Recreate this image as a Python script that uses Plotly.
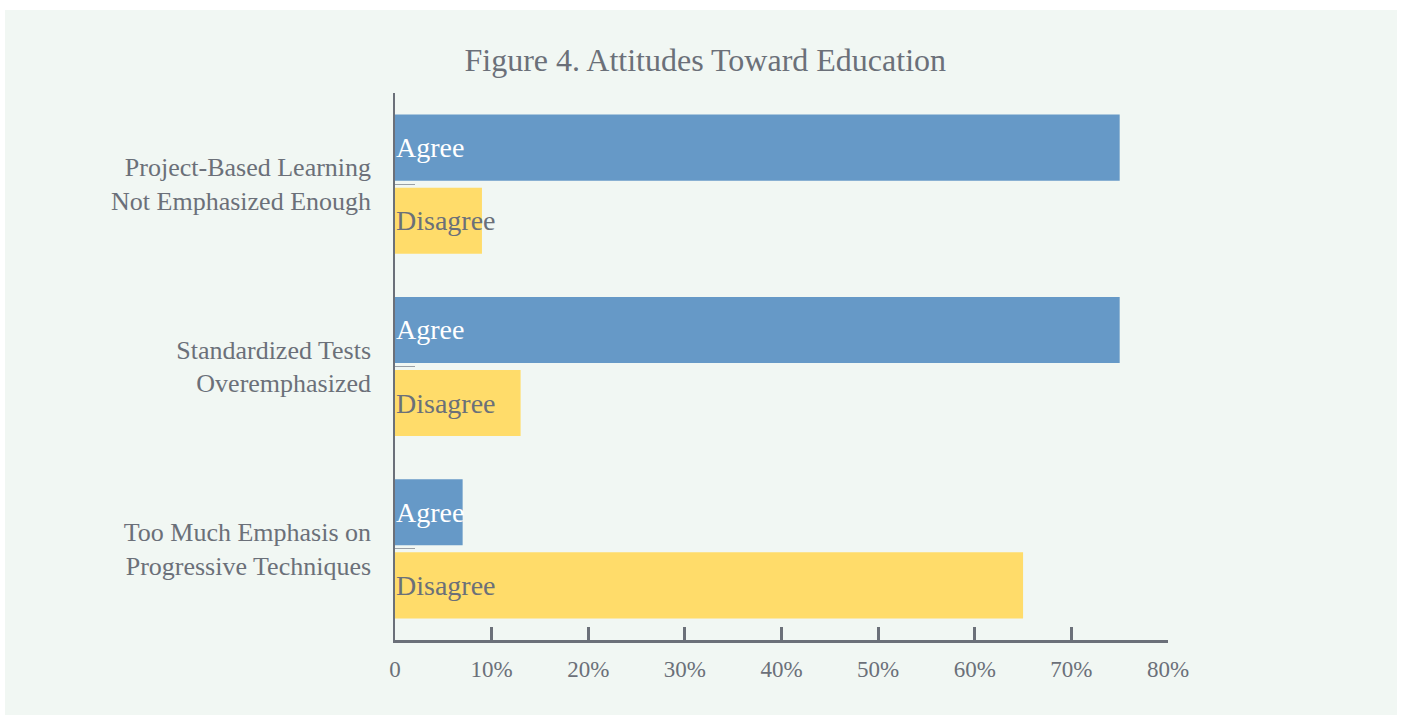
import plotly.graph_objects as go

# Survey statements (top to bottom) and share of respondents (%)
categories = [
    "Project-Based Learning<br>Not Emphasized Enough",
    "Standardized Tests<br>Overemphasized",
    "Too Much Emphasis on<br>Progressive Techniques",
]
agree = [75, 75, 7]
disagree = [9, 13, 65]
series_names = ["Agree", "Disagree"]

tick_vals = [0, 10, 20, 30, 40, 50, 60, 70, 80]
tick_text = ["0", "10%", "20%", "30%", "40%", "50%", "60%", "70%", "80%"]

GRAY = "#6b7079"
BLUE = "#6699c7"
YELLOW = "#ffdc6a"
PANEL = "#f1f7f3"
FONT = "Liberation Serif"

BARGAP = 0.198
BARGROUPGAP = 0.096

fig = go.Figure()
fig.add_trace(go.Bar(
    name=series_names[0], y=categories, x=agree, orientation="h",
    marker=dict(color=BLUE, line=dict(width=0)),
    hoverinfo="x+y",
))
fig.add_trace(go.Bar(
    name=series_names[1], y=categories, x=disagree, orientation="h",
    marker=dict(color=YELLOW, line=dict(width=0)),
    hoverinfo="x+y",
))

# Series names written at the base of each bar; the vertical offset of each
# bar within its group follows from the group gap settings
slot = (1 - BARGAP) / 2
label_colors = ["white", GRAY]
for s, name in enumerate(series_names):
    offset = (s - 0.5) * slot
    for i, _ in enumerate(categories):
        fig.add_annotation(
            x=0, y=i + offset, xref="x", yref="y",
            text=name, showarrow=False, xanchor="left", yanchor="middle",
            font=dict(family=FONT, size=28, color=label_colors[s]),
            borderpad=0,
        )

# Light panel behind the whole chart
fig.add_shape(
    type="rect", xref="paper", yref="paper",
    x0=(5 - 395) / 773, x1=(1397 - 395) / 773,
    y0=(640 - 715) / 547, y1=(640 - 10) / 547,
    fillcolor=PANEL, line=dict(width=0), layer="below",
)

fig.update_layout(
    width=1403, height=715,
    margin=dict(l=395, r=235, t=93, b=75),
    paper_bgcolor="white", plot_bgcolor="rgba(0,0,0,0)",
    barmode="group", bargap=BARGAP, bargroupgap=BARGROUPGAP,
    showlegend=False,
    title=dict(
        text="Figure 4. Attitudes Toward Education",
        x=0.5027, xanchor="center", y=0.916, yanchor="middle",
        font=dict(family=FONT, size=32, color=GRAY),
    ),
    font=dict(family=FONT, color=GRAY),
    xaxis=dict(
        range=[0, 80], tickvals=tick_vals, ticktext=tick_text,
        showgrid=False, zeroline=False,
        showline=True, linecolor=GRAY, linewidth=2.5,
        ticks="inside", ticklen=13, tickwidth=2.5, tickcolor=GRAY,
        tickfont=dict(family=FONT, size=23, color=GRAY),
        ticklabelstandoff=7,
    ),
    yaxis=dict(
        autorange="reversed", showgrid=False, zeroline=False,
        showline=True, linecolor=GRAY, linewidth=1.5,
        ticks="inside", ticklen=20, tickwidth=1, tickcolor="#9aa0a6",
        tickfont=dict(family=FONT, size=26, color=GRAY),
        ticklabelstandoff=17,
    ),
)

fig.write_html("out.html")
